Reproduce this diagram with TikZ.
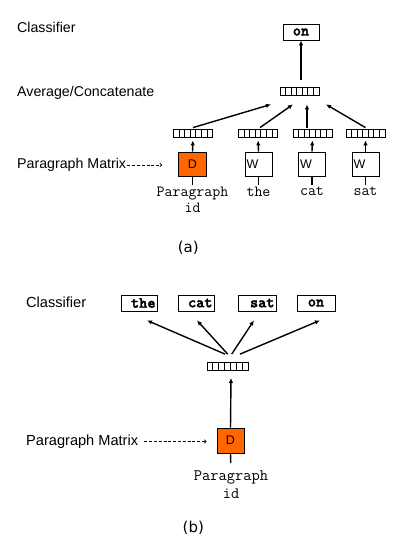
\documentclass[tikz,border=0pt]{standalone}
\usepackage{fontspec}
\setmainfont{Liberation Sans}
\newfontfamily\capf{DejaVu Sans}
\newfontfamily\bmono{lmmonolt10-bold.otf}[FakeBold=2]
\usetikzlibrary{arrows.meta,calc}
\definecolor{dorange}{RGB}{255,102,0}
\tikzset{
  lab/.style={font=\fontsize{14.2}{16}\selectfont, anchor=west, inner sep=0},
  labb/.style={font=\fontsize{14.6}{17}\selectfont, anchor=west, inner sep=0},
  vecbox/.style={draw, line width=0.8pt, minimum width=39pt, minimum height=8pt, inner sep=0,
    path picture={\foreach \k in {1,...,6}{\draw[line width=0.8pt]
      ($(path picture bounding box.south west)!\k/7!(path picture bounding box.south east)$) --
      ($(path picture bounding box.north west)!\k/7!(path picture bounding box.north east)$);}}},
  wordbox/.style={draw, line width=0.8pt, minimum width=36pt, minimum height=16pt, inner sep=1pt,
    font=\bmono\fontsize{15.5}{16}\selectfont},
  rwordbox/.style={wordbox, text width=32pt, align=right, inner xsep=2pt},
  dbox/.style={draw, line width=0.8pt, fill=dorange, minimum width=28pt, minimum height=24pt,
    inner sep=0, font=\fontsize{12.5}{14}\selectfont},
  wbox/.style={draw, line width=0.8pt, fill=white, minimum width=27pt, minimum height=24pt,
    inner xsep=1.5pt, text width=24pt, align=left, font=\fontsize{12.5}{14}\selectfont},
  arr/.style={line width=1.4pt, -{Latex[length=5pt,width=4.5pt]}},
  stub/.style={line width=1.4pt},
  dasharr/.style={line width=0.8pt, dash pattern=on 3pt off 1.8pt, -{To[length=2.5pt,width=4pt]}},
  mono/.style={font=\ttfamily\fontsize{15.5}{16}\selectfont, align=center, inner sep=0, anchor=north},
  monob/.style={font=\ttfamily\fontsize{16}{18}\selectfont, align=center, inner sep=0, anchor=north},
  captext/.style={font=\capf\fontsize{15}{16}\selectfont, inner sep=0}
}
\begin{document}
\begin{tikzpicture}[x=1pt,y=-1pt]
\useasboundingbox (0,0) rectangle (400,550);

% ---------- (a) ----------
\node[lab] (cls_a) at (17,27) {Classifier};
\node[lab] (avg_a) at (17,92.5) {Average/Concatenate};
\node[lab] (pm_a) at (17,165) {Paragraph Matrix};

\node[wordbox] (on_a) at (301,32) {on};
\node[vecbox] (vt_a) at (299.5,91) {};

\node[vecbox] (vD_a) at (193,133) {};
\node[vecbox] (vW1_a) at (258,133) {};
\node[vecbox] (vW2_a) at (312.5,133) {};
\node[vecbox] (vW3_a) at (365.5,133) {};

\node[dbox] (D_a) at (192.5,164) {D};
\node[wbox] (W1_a) at (258.5,164) {W};
\node[wbox] (W2_a) at (312,164) {W};
\node[wbox] (W3_a) at (365.5,164) {W};

\node[mono] (pid_a) at (192.5,187) {Paragraph\\id};
\node[mono] (the_a) at (258.5,187) {the};
\node[mono] (cat_a) at (312,187) {cat};
\node[mono] (sat_a) at (365.5,187) {sat};

\draw[stub, shorten >=2.5pt] (D_a.south) -- (pid_a.north);
\draw[stub, shorten >=2.5pt] (W1_a.south) -- (the_a.north);
\draw[stub, shorten >=2.5pt] (W2_a.south) -- (cat_a.north);
\draw[stub, shorten >=2.5pt] (W3_a.south) -- (sat_a.north);

\draw[arr, shorten >=3pt] (D_a.north) -- (vD_a.south);
\draw[arr, shorten >=3pt] (W1_a.north) -- (vW1_a.south);
\draw[arr, shorten >=3pt] (W2_a.north) -- (vW2_a.south);
\draw[arr, shorten >=3pt] (W3_a.north) -- (vW3_a.south);

\draw[arr] ([yshift=1pt]vD_a.north) -- ([xshift=-28.5pt,yshift=-9pt]vt_a.south);
\draw[arr] ([xshift=2pt,yshift=1pt]vW1_a.north) -- ([xshift=-6.5pt,yshift=-9pt]vt_a.south);
\draw[arr] ([xshift=-5.5pt,yshift=1pt]vW2_a.north) -- ([xshift=7.5pt,yshift=-9pt]vt_a.south);
\draw[arr] ([yshift=1pt]vW3_a.north) -- ([xshift=26.5pt,yshift=-9pt]vt_a.south);

\draw[arr] ([yshift=7pt]vt_a.north -| on_a.south) -- (on_a.south);

\draw[dasharr, shorten >=16pt, shorten <=1pt] (pm_a.east) -- (pm_a.east -| D_a.west);

\node[captext] (a_lab) at (188.3,247.5) {(a)};

% ---------- (b) ----------
\node[labb] (cls_b) at (26,302.5) {Classifier};
\node[labb] (pm_b) at (26,441.5) {Paragraph Matrix};

\node[rwordbox] (the_b) at (139.5,303) {the};
\node[rwordbox] (cat_b) at (196.5,303) {cat};
\node[rwordbox, minimum width=38pt, text width=34pt] (sat_b) at (257.5,303) {sat};
\node[wordbox, minimum width=38pt] (on_b) at (316,303) {on};

\node[vecbox, minimum width=41pt] (vt_b) at (227.5,366.5) {};

\node[dbox, minimum width=27pt, minimum height=25pt] (D_b) at (230.5,440.5) {D};
\node[monob] (pid_b) at (231,471) {Paragraph\\id};

\draw[stub, shorten >=8pt] (D_b.south) -- (pid_b.north);
\draw[arr] (D_b.north) -- ([xshift=3.5pt,yshift=-7pt]vt_b.south);

\draw[arr] ([xshift=-2.5pt,yshift=8pt]vt_b.north) -- ([xshift=7.5pt,yshift=-9pt]the_b.south);
\draw[arr] ([xshift=0.2pt,yshift=8pt]vt_b.north) -- ([xshift=0.5pt,yshift=-9pt]cat_b.south);
\draw[arr] ([xshift=4.2pt,yshift=8pt]vt_b.north) -- ([xshift=-3.5pt,yshift=-9pt]sat_b.south);
\draw[arr] ([xshift=12.5pt,yshift=8pt]vt_b.north) -- ([xshift=4pt,yshift=-9pt]on_b.south);

\draw[dasharr, shorten >=10pt, shorten <=6pt] (pm_b.east) -- (pm_b.east -| D_b.west);

\node[captext] (b_lab) at (193.3,527.5) {(b)};
\end{tikzpicture}
\end{document}
